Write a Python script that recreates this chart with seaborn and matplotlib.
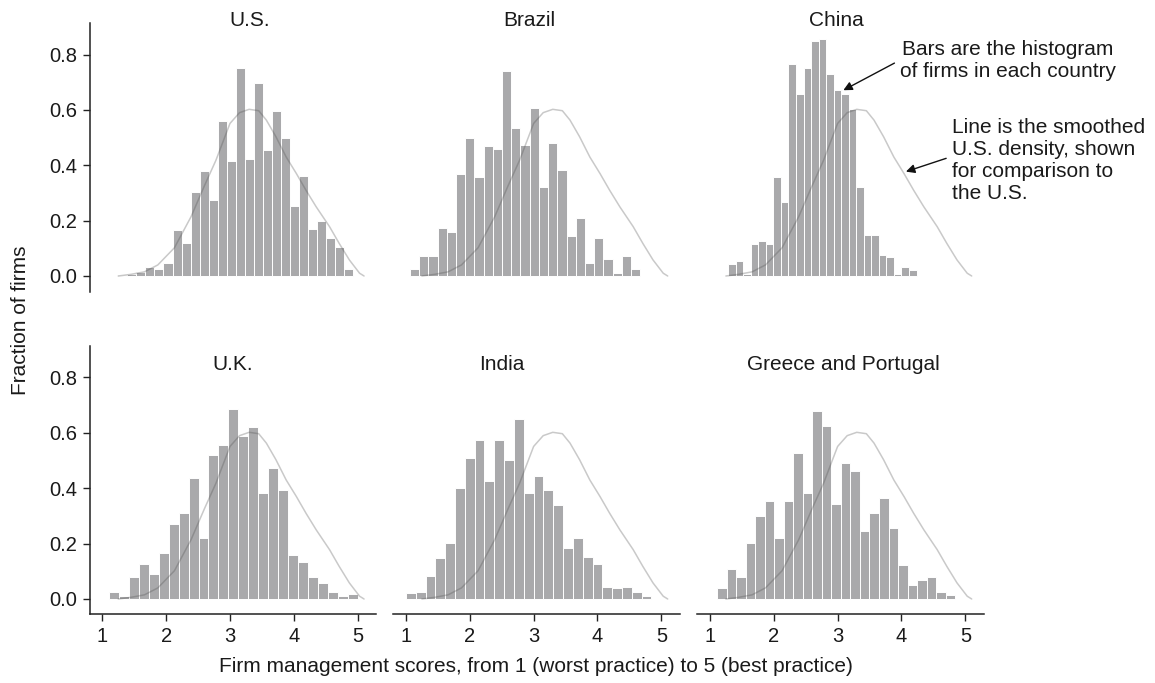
import numpy as np
import pandas as pd
import matplotlib
matplotlib.use("Agg")
import matplotlib.pyplot as plt
import seaborn as sns

countries = ["U.S.", "Brazil", "China", "U.K.", "India", "Greece and Portugal"]

# fraction of firms per bin
us_frac = [0.003, 0.007, 0.015, 0.031, 0.024, 0.046, 0.166, 0.118, 0.302, 0.379, 0.276, 0.560, 0.415,
           0.751, 0.423, 0.698, 0.455, 0.597, 0.497, 0.254, 0.361, 0.168, 0.199, 0.136, 0.106, 0.024]
brazil_frac = [0.024, 0.073, 0.073, 0.172, 0.160, 0.370, 0.497, 0.359, 0.470, 0.457, 0.741, 0.533, 0.473,
               0.608, 0.320, 0.482, 0.383, 0.146, 0.208, 0.046, 0.136, 0.061, 0.012, 0.073, 0.024]
china_frac = [0.042, 0.054, 0.007, 0.114, 0.126, 0.114, 0.359, 0.266, 0.764, 0.656, 0.750, 0.849, 0.855,
              0.729, 0.671, 0.657, 0.602, 0.322, 0.148, 0.148, 0.075, 0.069, 0.009, 0.034, 0.021]
uk_frac = [0.024, 0.012, 0.078, 0.126, 0.092, 0.165, 0.270, 0.309, 0.436, 0.220, 0.519, 0.556, 0.687,
           0.589, 0.621, 0.384, 0.474, 0.393, 0.160, 0.135, 0.078, 0.056, 0.026, 0.012, 0.018]
india_frac = [0.020, 0.026, 0.082, 0.147, 0.201, 0.402, 0.511, 0.574, 0.426, 0.574, 0.501, 0.649, 0.384,
              0.444, 0.393, 0.339, 0.184, 0.220, 0.153, 0.126, 0.044, 0.038, 0.044, 0.026, 0.010]
gp_frac = [0.040, 0.108, 0.080, 0.204, 0.298, 0.354, 0.220, 0.354, 0.529, 0.382, 0.679, 0.625, 0.342,
           0.490, 0.462, 0.244, 0.312, 0.364, 0.256, 0.123, 0.052, 0.068, 0.080, 0.026, 0.014]

fractions = [us_frac, brazil_frac, china_frac, uk_frac, india_frac, gp_frac]
bin_ranges = [(1.251, 4.930), (1.063, 4.670), (1.286, 4.236), (1.105, 5.000), (1.0, 4.845), (1.115, 4.840)]

# smoothed U.S. density
us_density_x = [1.25, 1.45, 1.66, 1.87, 2.13, 2.39, 2.6, 2.78, 3.0, 3.15, 3.3, 3.45, 3.57, 3.72,
                3.88, 4.04, 4.19, 4.35, 4.56, 4.71, 4.87, 5.03, 5.1]
us_density_y = [0.0, 0.006, 0.015, 0.04, 0.102, 0.214, 0.326, 0.418, 0.551, 0.59, 0.602, 0.597, 0.563,
                0.503, 0.43, 0.37, 0.31, 0.25, 0.178, 0.118, 0.058, 0.01, 0.0]

sns.set_theme(style="ticks")
plt.rcParams["font.family"] = ["Liberation Sans", "DejaVu Sans"]
plt.rcParams["text.color"] = "#1a1a1a"

bar_color = "#a9a9ab"
fig = plt.figure(figsize=(11.55, 6.83), dpi=100)
lefts = [0.0775, 0.3404, 0.6036]
bottoms = [0.5732, 0.1003]
title_x = [0.56, 0.474, 0.484, 0.498, 0.38, 0.509]
title_y = [1.012, 0.933]

density = pd.DataFrame({"score": us_density_x, "dens": us_density_y})

axes = []
for i, (name, frac) in enumerate(zip(countries, fractions)):
    row, col = divmod(i, 3)
    ax = fig.add_axes([lefts[col], bottoms[row], 0.2482, 0.3924])
    lo, hi = bin_ranges[i]
    w = (hi - lo) / len(frac)
    df = pd.DataFrame({"score": lo + w * (np.arange(len(frac)) + 0.5), "frac": frac})
    sns.histplot(data=df, x="score", weights="frac", bins=len(frac), binrange=(lo, hi), ax=ax,
                 color=bar_color, edgecolor="white", linewidth=0.7, alpha=1)
    sns.lineplot(data=density, x="score", y="dens", ax=ax, color="#4d4d4d", alpha=0.3, lw=1.1)
    ax.set_xlim(0.8, 5.29)
    ax.set_ylim(-0.056, 0.912)
    ax.set_xlabel("")
    ax.set_ylabel("")
    sns.despine(ax=ax, left=(col != 0), bottom=(row != 1))
    for s in ax.spines.values():
        s.set_color("#222222")
        s.set_linewidth(1.1)
    if row == 1:
        ax.set_xticks([1, 2, 3, 4, 5])
    else:
        ax.set_xticks([])
    if col == 0:
        ax.set_yticks([0, 0.2, 0.4, 0.6, 0.8])
        ax.set_yticklabels(["0.0", "0.2", "0.4", "0.6", "0.8"])
    else:
        ax.set_yticks([])
    ax.tick_params(length=5, width=1, color="#222222", labelsize=14.5, labelcolor="#1a1a1a", pad=4)
    ax.text(title_x[i], title_y[row], name, transform=ax.transAxes, ha="center", va="center", fontsize=15)
    axes.append(ax)

china_ax = axes[2]
arrow_kw = dict(arrowstyle="-|>", color="#111111", lw=1.0, mutation_scale=13, shrinkA=0, shrinkB=0)
china_ax.annotate("", xy=(3.09, 0.671), xytext=(3.89, 0.769), arrowprops=arrow_kw, annotation_clip=False)
china_ax.annotate("", xy=(4.07, 0.377), xytext=(4.70, 0.425), arrowprops=arrow_kw, annotation_clip=False)

fig.text(0.8727, 0.9114, "Bars are the histogram\nof firms in each country", ha="center", va="center",
         fontsize=15, linespacing=1.2)
fig.text(0.8242, 0.765, "Line is the smoothed\nU.S. density, shown\nfor comparison to\nthe U.S.",
         ha="left", va="center", fontsize=15, linespacing=1.2)

fig.text(0.018, 1 - 320 / 683, "Fraction of firms", rotation=90, ha="center", va="center", fontsize=15)
fig.text(536 / 1155, 1 - 666 / 683, "Firm management scores, from 1 (worst practice) to 5 (best practice)",
         ha="center", va="center", fontsize=15)

fig.savefig("out.png", dpi=100)
